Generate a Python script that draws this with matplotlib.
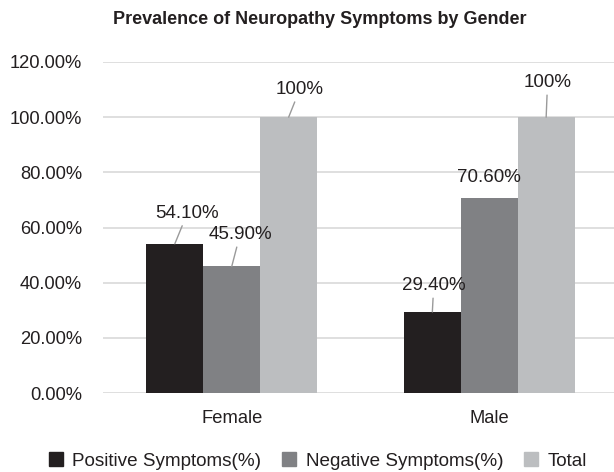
import numpy as np
import matplotlib.pyplot as plt
from matplotlib.patches import Patch

plt.rcParams['font.family'] = ['Liberation Sans', 'DejaVu Sans']

# Input data.
genders = ['Female', 'Male']
positive = [54.10, 29.40]
negative = [45.90, 70.60]
total = [100, 100]
seriesNames = ['Positive Symptoms(%)', 'Negative Symptoms(%)', 'Total']
colors = ['#231f20', '#808184', '#bcbec0']

# Label placement (offsets in points from the bar top, leader on/off).
labelOffsets = [[(9, 22), (1, 19)],
                [(6, 23), (0, 15)],
                [(8, 20), (1, 25)]]
leaders = [[True, True], [True, False], [True, True]]

fig = plt.figure(figsize=(6.14, 4.72), dpi=100)
ax = fig.add_axes([103/614, 1-393/472, 515/614, 331/472])

x = np.arange(len(genders))
width = 0.221
series = [positive, negative, total]
for k, vals in enumerate(series):
    pos = x + (k-1)*width
    ax.bar(pos, np.array(vals)/100, width, color=colors[k], zorder=3)
    for j, v in enumerate(vals):
        txt = f'{v:.0f}%' if k == 2 else f'{v:.2f}%'
        props = dict(arrowstyle='-', color='#9a9a9a', lw=1, shrinkA=1, shrinkB=0) if leaders[k][j] else None
        ax.annotate(txt, xy=(pos[j], v/100), xytext=labelOffsets[k][j], textcoords='offset points',
                    ha='center', va='center', fontsize=13.5, color='#231f20', arrowprops=props, zorder=4)

ax.set_xlim(-0.5, 1.5)
ax.set_ylim(0, 1.2)
ax.set_yticks(np.arange(0, 1.21, 0.2))
ax.set_yticklabels([f'{t*100:.2f}%' for t in np.arange(0, 1.21, 0.2)], fontsize=13.2, color='#231f20')
ax.set_xticks(x)
ax.set_xticklabels(genders, fontsize=13.2, color='#231f20')
ax.tick_params(axis='both', length=0)
ax.tick_params(axis='y', pad=15)
ax.tick_params(axis='x', pad=12)
ax.grid(axis='y', color='#d9d9d9', lw=1.2, zorder=0)
for s in ax.spines.values():
    s.set_visible(False)

fig.text(320/614, 1-20/472, 'Prevalence of Neuropathy Symptoms by Gender', ha='center', va='center',
         fontsize=13, fontweight='bold', color='#231f20')

handles = [Patch(color=c) for c in colors]
fig.legend(handles, seriesNames, loc='center', bbox_to_anchor=(318/614, 1-461/472), ncol=3, frameon=False,
           fontsize=13.6, handlelength=0.75, handleheight=0.75, handletextpad=0.5, columnspacing=1.1,
           labelcolor='#231f20')

fig.savefig('out.png', dpi=100)
